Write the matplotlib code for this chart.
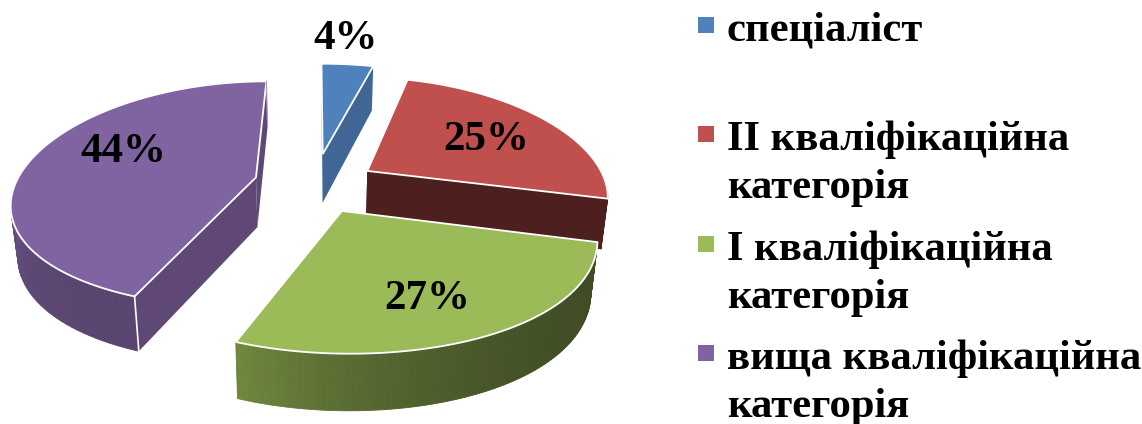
import numpy as np
import matplotlib
matplotlib.use('Agg')
import matplotlib.pyplot as plt
import matplotlib.patches as patches
from matplotlib.colors import to_rgb

labels = ['спеціаліст', 'II кваліфікаційна\nкатегорія',
          'I кваліфікаційна\nкатегорія', 'вища кваліфікаційна\nкатегорія']
values = [4, 25, 27, 44]
pct_labels = ['4%', '25%', '27%', '44%']

top_colors = ['#4F81BD', '#C0504D', '#9BBB59', '#8064A2']
face_colors = ['#3F6695', '#4E1F1F', '#4A5A2A', '#5F4876']
rim_light = ['#3F6695', '#4E1F1F', '#71893F', '#6F5590']
rim_dark = ['#3F6695', '#4E1F1F', '#3F4C24', '#5A4570']

# параметры перспективы подобраны по картинке (в пикселях)
CX, CY = 315, 183
RX, RY = 240, 112
PERSP_X = 0.2
PERSP_Y = 0.15
PERSP_D = 0.1
DEPTH = 50
EXPLODE = 0.27
SHRINK = 0.977
nudge_x = [0, -2, -4, 4]
nudge_y = [0, 3, 0, 0]
stretch_x = [1.08, 1.0, 0.985, 1.0]

pct_pos = [(346, 39), (486, 140), (427, 299), (123, 152)]
legend_y = [41, 150, 260, 369]


def project(i, x, y, bottom=False):
    # x вправо, y вглубь, единичный диск
    px = CX + RX * x / (1 + PERSP_X * y)
    py = CY - RY * y / (1 + PERSP_Y * y)
    if bottom:
        px = CX + (px - CX) * SHRINK
        py = py + DEPTH / (1 + PERSP_D * y)
    return px + nudge_x[i], py + nudge_y[i]


def blend(c1, c2, f):
    a, b = np.array(to_rgb(c1)), np.array(to_rgb(c2))
    return tuple(a + (b - a) * f)


fig = plt.figure(figsize=(11.42, 4.24), dpi=100)
ax = fig.add_axes([0, 0, 1, 1])
ax.set_xlim(0, 1142)
ax.set_ylim(424, 0)
ax.axis('off')

edges = np.cumsum([0] + values) / sum(values) * 2 * np.pi
slices = []
for i in range(len(values)):
    t0, t1 = edges[i], edges[i + 1]
    mid = (t0 + t1) / 2
    ox, oy = EXPLODE * np.sin(mid), EXPLODE * np.cos(mid)
    t = np.linspace(t0, t1, 90)
    xs, ys = ox + stretch_x[i] * np.sin(t), oy + np.cos(t)
    slices.append((i, ox, oy, t, xs, ys))

# порядок рисования: сзади вперёд
for i, ox, oy, t, xs, ys in [slices[j] for j in (0, 3, 1, 2)]:
    # срезы
    for k in (0, -1):
        quad = [project(i, ox, oy), project(i, xs[k], ys[k]),
                project(i, xs[k], ys[k], True), project(i, ox, oy, True)]
        ax.add_patch(patches.Polygon(quad, closed=True, facecolor=face_colors[i],
                                     edgecolor='none', zorder=i))

    # боковая поверхность, только видимая часть
    visible = np.where(np.cos(t) < 0.05)[0]
    if len(visible) > 1:
        for n, (a, b) in enumerate(zip(visible[:-1], visible[1:])):
            f = (n / (len(visible) - 1)) ** 2.5
            col = blend(rim_dark[i], rim_light[i], f)
            quad = [project(i, xs[a], ys[a]), project(i, xs[b], ys[b]),
                    project(i, xs[b], ys[b], True), project(i, xs[a], ys[a], True)]
            ax.add_patch(patches.Polygon(quad, closed=True, facecolor=col,
                                         edgecolor=col, linewidth=0.6, zorder=i))

    # верхняя грань
    top = [project(i, ox, oy)] + [project(i, x, y) for x, y in zip(xs, ys)]
    ax.add_patch(patches.Polygon(top, closed=True, facecolor=top_colors[i],
                                 edgecolor='white', linewidth=1.3, zorder=i))

# светлые рёбра у фиолетового сектора
_, ox, oy, t, xs, ys = slices[3]
p0, p1 = project(3, xs[0], ys[0]), project(3, xs[0], ys[0], True)
ax.plot([p0[0], p1[0]], [p0[1], p1[1]], color='white', lw=1.2, zorder=3)
p0, p1 = project(3, xs[-1], ys[-1]), project(3, xs[-1], ys[-1], True)
ax.plot([p0[0], p1[0]], [p0[1], p1[1]], color='#A898C0', lw=0.8, zorder=3)

for txt, (x, y) in zip(pct_labels, pct_pos):
    ax.text(x, y, txt, family='Liberation Serif', weight='bold', fontsize=31,
            ha='center', va='center', color='black', zorder=10)

for txt, col, y in zip(labels, top_colors, legend_y):
    ax.add_patch(patches.Rectangle((698, y - 24), 16, 16, facecolor=col, edgecolor='none'))
    parts = txt.split('\n')
    ax.text(727, y, parts[0], family='Liberation Serif', weight='bold',
            fontsize=30.7, ha='left', va='baseline', color='black')
    if len(parts) > 1:
        ax.text(727, y + 48, parts[1], family='Liberation Serif', weight='bold',
                fontsize=30.7, ha='left', va='baseline', color='black')

fig.savefig('out.png', dpi=100)
